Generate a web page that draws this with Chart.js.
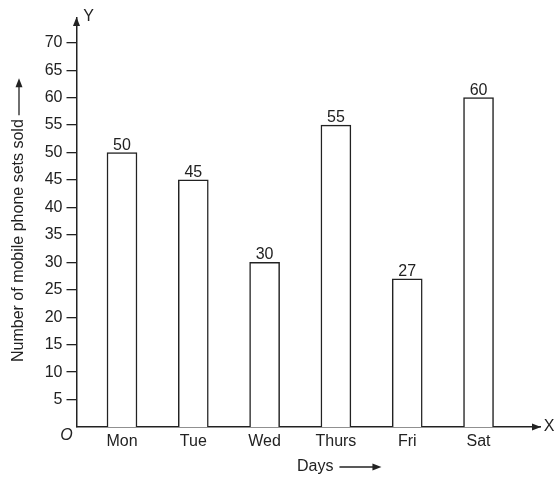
<!DOCTYPE html>
<html>
<head>
<meta charset="utf-8">
<script src="https://cdn.jsdelivr.net/npm/chart.js@4"></script>
<style>
  html, body { margin: 0; padding: 0; background: #fff; }
  #wrap { width: 559px; height: 480px; }
</style>
</head>
<body>
<div id="wrap"><canvas id="c" width="559" height="480"></canvas></div>
<script>
// Mobile phone sets sold per day
const days = ['Mon', 'Tue', 'Wed', 'Thurs', 'Fri', 'Sat'];
const sold = [50, 45, 30, 55, 27, 60];
const yTicks = [5, 10, 15, 20, 25, 30, 35, 40, 45, 50, 55, 60, 65, 70];

const INK = '#222';
const FONT = '"Liberation Sans", Arial, Helvetica, sans-serif';
const SIZE = 16;

// Axis arrows, axis letters, origin mark, axis titles and value labels
const decorations = {
  id: 'decorations',
  afterDraw(chart) {
    const ctx = chart.ctx;
    const area = chart.chartArea;
    const ys = chart.scales.y;
    const ox = area.left, oy = ys.getPixelForValue(0);
    ctx.save();
    ctx.fillStyle = INK;
    ctx.strokeStyle = INK;

    // arrowheads
    const head = (x, y, dir) => {
      ctx.beginPath();
      if (dir === 'up') {
        ctx.moveTo(x, y); ctx.lineTo(x - 3.5, y + 9); ctx.lineTo(x + 3.5, y + 9);
      } else {
        ctx.moveTo(x, y); ctx.lineTo(x - 9, y - 3.5); ctx.lineTo(x - 9, y + 3.5);
      }
      ctx.closePath();
      ctx.fill();
    };
    head(ox, area.top - 1, 'up');
    head(area.right + 1, oy, 'right');

    // axis letters and origin
    ctx.font = SIZE + 'px ' + FONT;
    ctx.textBaseline = 'middle';
    ctx.textAlign = 'center';
    ctx.fillText('Y', ox + 12, 17);
    ctx.fillText('X', area.right + 9, oy);
    ctx.font = 'italic ' + SIZE + 'px ' + FONT;
    ctx.fillText('O', ox - 10, oy + 9);

    // value labels above each bar
    ctx.font = SIZE + 'px ' + FONT;
    ctx.textBaseline = 'alphabetic';
    chart.getDatasetMeta(0).data.forEach((bar, i) => {
      ctx.fillText(String(sold[i]), bar.x, bar.y - 3);
    });

    // x title with arrow
    ctx.textAlign = 'left';
    ctx.textBaseline = 'middle';
    const dx = 297, dy = 467;
    ctx.fillText('Days', dx, dy);
    const dEnd = dx + ctx.measureText('Days').width + 6;
    ctx.lineWidth = 1.3;
    ctx.beginPath(); ctx.moveTo(dEnd, dy); ctx.lineTo(dEnd + 36, dy); ctx.stroke();
    head(dEnd + 42, dy, 'right');

    // y title with arrow (rotated)
    ctx.translate(19, 362);
    ctx.rotate(-Math.PI / 2);
    const yt = 'Number of mobile phone sets sold';
    ctx.fillText(yt, 0, 0);
    const yEnd = ctx.measureText(yt).width + 4;
    ctx.beginPath(); ctx.moveTo(yEnd, 0); ctx.lineTo(yEnd + 30, 0); ctx.stroke();
    ctx.rotate(Math.PI / 2);
    ctx.translate(-19, -362);
    head(19, 362 - (yEnd + 37), 'up');
    ctx.restore();
  }
};

new Chart(document.getElementById('c'), {
  type: 'bar',
  data: {
    datasets: [{
      data: days.map((d, i) => ({ x: i, y: sold[i] })),
      backgroundColor: '#fff',
      borderColor: INK,
      borderWidth: 1.5,
      barThickness: 30
    }]
  },
  options: {
    responsive: false,
    animation: false,
    events: [],
    layout: { padding: { left: 0, right: 19, top: 18, bottom: 0 } },
    plugins: { legend: { display: false }, tooltip: { enabled: false } },
    scales: {
      x: {
        type: 'linear',
        offset: false,
        min: -0.638,
        max: 5.862,
        afterBuildTicks: (s) => { s.ticks = days.map((d, i) => ({ value: i })); },
        afterFit: (s) => { s.height = 53; },
        grid: { display: false, drawTicks: false, offset: false },
        border: { display: true, color: INK, width: 1.5 },
        ticks: {
          color: INK,
          padding: 5,
          autoSkip: false,
          maxRotation: 0,
          font: { family: FONT, size: SIZE },
          callback: (v) => days[v]
        }
      },
      y: {
        type: 'linear',
        min: 0,
        max: 74.5,
        afterBuildTicks: (s) => { s.ticks = yTicks.map(v => ({ value: v })); },
        afterFit: (s) => { s.width = 76.5; },
        grid: { display: true, drawOnChartArea: false, drawTicks: true, tickLength: 10, color: INK, lineWidth: 1.3 },
        border: { display: true, color: INK, width: 1.5 },
        ticks: {
          color: INK,
          padding: 4,
          font: { family: FONT, size: SIZE }
        }
      }
    }
  },
  plugins: [decorations]
});
</script>
</body>
</html>
